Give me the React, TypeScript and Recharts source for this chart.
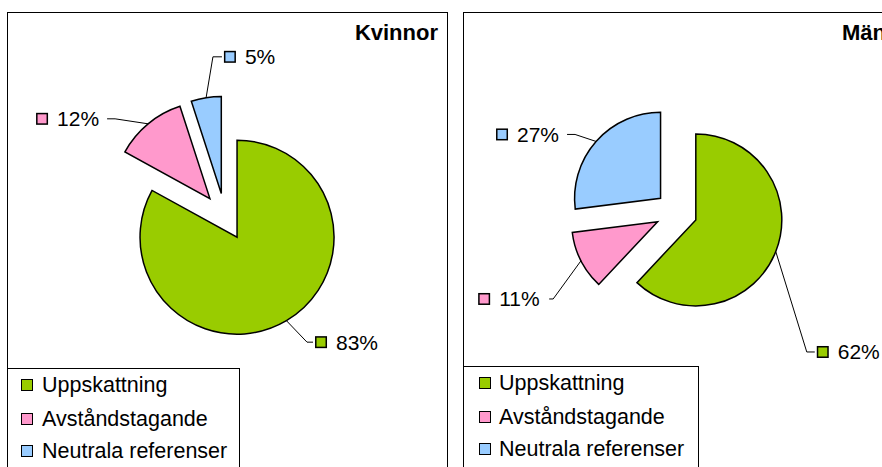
import { PieChart, Pie, Cell } from 'recharts';

const categories = ['Uppskattning', 'Avståndstagande', 'Neutrala referenser'];
const kvinnorValues = [83, 12, 5];
const manValues = [62, 11, 27];
const colors = ['#99CC00', '#FF99CC', '#99CCFF'];

// leader line bend per slice: [dx, dy] from the outer-arc midpoint, then a horizontal run
const kvinnorLeaders = [[20.6, 21.5, 6], [-33, -5, 8], [6.8, -40.8, 9]];
const manLeaders = [[31, 100.4, 8], [-27.8, 38.2, 4], [-21, -7, 8]];

const FONT = '"Liberation Sans", Arial, Helvetica, sans-serif';
const RADIAN = Math.PI / 180;
const LABEL_SIZE = 21;

// every slice is pulled out along its own middle angle
function explodeOffsets(values: number[], dist: number) {
  const total = values.reduce((a, b) => a + b, 0);
  let acc = 0;
  return values.map(v => {
    const mid = 90 - (360 * (acc + v / 2)) / total;
    acc += v;
    return { dx: dist * Math.cos(mid * RADIAN), dy: -dist * Math.sin(mid * RADIAN) };
  });
}

function estWidth(s: string) {
  let w = 0;
  for (const ch of s) w += ch === '%' ? 0.889 : 0.556;
  return w * LABEL_SIZE;
}

function makeLabel(only: number, leaders: number[][]) {
  return (props: any) => {
    const { cx, cy, midAngle, outerRadius, index, value } = props;
    if (index !== only) return null;
    const ax = cx + outerRadius * Math.cos(-midAngle * RADIAN);
    const ay = cy + outerRadius * Math.sin(-midAngle * RADIAN);
    const [ox, oy, run] = leaders[index];
    const ex = ax + ox;
    const ey = ay + oy;
    const side = ox >= 0 ? 1 : -1;
    const lx = ex + side * run;
    const text = `${value}%`;
    let sqX: number;
    let txX: number;
    if (side > 0) {
      sqX = lx + 2;
      txX = sqX + 21;
    } else {
      txX = lx - 8 - estWidth(text);
      sqX = txX - 21;
    }
    return (
      <g>
        <polyline
          points={`${ax},${ay} ${ex},${ey} ${lx},${ey}`}
          fill="none"
          stroke="#000"
          strokeWidth={1}
        />
        <rect x={sqX + 0.75} y={ey - 5.25} width={10.5} height={10.5} fill={colors[index]} stroke="#000" strokeWidth={1.5} />
        <text x={txX} y={ey + 7.5} fontSize={LABEL_SIZE} fontFamily={FONT} fill="#000" stroke="none">
          {text}
        </text>
      </g>
    );
  };
}

function LegendBox({ top, width, squareX, textX }: { top: number; width: number; squareX: number; textX: number }) {
  const rows = [16, 50, 82];
  return (
    <div
      style={{
        position: 'absolute',
        left: -1,
        top,
        width,
        height: 120,
        boxSizing: 'border-box',
        border: '1px solid #000',
        background: '#fff',
        fontFamily: FONT,
        fontSize: 21.5,
        color: '#000',
      }}
    >
      {categories.map((c, i) => (
        <div key={c} style={{ position: 'absolute', left: 0, top: rows[i] - 13, height: 26, width: '100%' }}>
          <span
            style={{
              position: 'absolute',
              left: squareX,
              top: 7,
              width: 12,
              height: 12,
              boxSizing: 'border-box',
              border: '1.5px solid #000',
              background: colors[i],
            }}
          />
          <span style={{ position: 'absolute', left: textX, top: 0, lineHeight: '26px', whiteSpace: 'nowrap' }}>{c}</span>
        </div>
      ))}
    </div>
  );
}

interface PanelProps {
  title: string;
  values: number[];
  leaders: number[][];
  left: number;
  width: number;
  cx: number;
  cy: number;
  r: number;
  legendTop: number;
  legendWidth: number;
  squareX: number;
  textX: number;
}

function Panel({ title, values, leaders, left, width, cx, cy, r, legendTop, legendWidth, squareX, textX }: PanelProps) {
  const data = categories.map((name, i) => ({ name, value: values[i] }));
  const offs = explodeOffsets(values, r * 0.244);
  const inner = width - 2;
  return (
    <div
      style={{
        position: 'absolute',
        left,
        top: 12,
        width,
        height: 470,
        boxSizing: 'border-box',
        border: '1px solid #000',
        background: '#fff',
      }}
    >
      <PieChart width={inner} height={460} margin={{ top: 0, right: 0, bottom: 0, left: 0 }}>
        {values.map((_, i) => (
          <Pie
            key={i}
            data={data}
            dataKey="value"
            nameKey="name"
            cx={cx + offs[i].dx}
            cy={cy + offs[i].dy}
            outerRadius={r}
            startAngle={90}
            endAngle={-270}
            isAnimationActive={false}
            label={makeLabel(i, leaders)}
            labelLine={false}
          >
            {data.map((_, j) => (
              <Cell
                key={j}
                fill={j === i ? colors[j] : 'none'}
                stroke={j === i ? '#000' : 'none'}
                strokeWidth={1.5}
              />
            ))}
          </Pie>
        ))}
      </PieChart>
      <LegendBox top={legendTop} width={legendWidth} squareX={squareX} textX={textX} />
      <div
        style={{
          position: 'absolute',
          right: 9,
          top: 9.4,
          fontFamily: FONT,
          fontWeight: 'bold',
          fontSize: 22,
          lineHeight: '22px',
          color: '#000',
          whiteSpace: 'nowrap',
        }}
      >
        {title}
      </div>
    </div>
  );
}

export default function App() {
  return (
    <div
      style={{
        position: 'absolute',
        left: 0,
        top: 0,
        width: 882,
        height: 467,
        overflow: 'hidden',
        background: '#fff',
      }}
    >
      <Panel
        title="Kvinnor"
        values={kvinnorValues}
        leaders={kvinnorLeaders}
        left={7}
        width={441}
        cx={217}
        cy={203.8}
        r={97}
        legendTop={355}
        legendWidth={233}
        squareX={13}
        textX={34}
      />
      <Panel
        title="Män"
        values={manValues}
        leaders={manLeaders}
        left={463}
        width={433}
        cx={212.3}
        cy={199.2}
        r={86}
        legendTop={353}
        legendWidth={236}
        squareX={15}
        textX={35}
      />
    </div>
  );
}
